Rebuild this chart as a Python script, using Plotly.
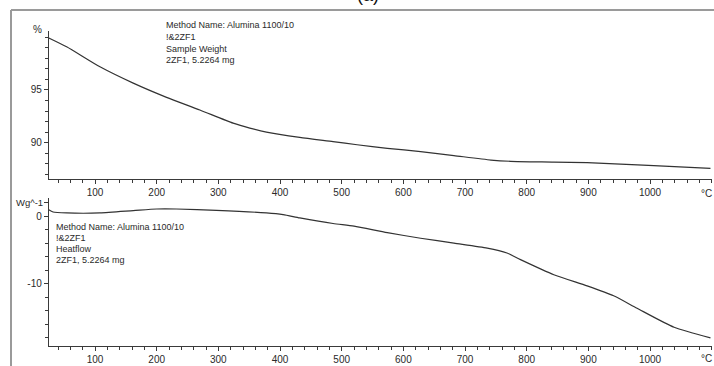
import plotly.graph_objects as go

# ---- data ----
temp_weight = [25, 54, 108, 162, 216, 270, 324, 351, 378, 432, 486, 525, 574, 628, 682, 742, 774, 844, 898, 952, 1006, 1098]
weight_pct = [99.94, 99.1, 97.2, 95.65, 94.3, 93.1, 91.85, 91.38, 91.0, 90.5, 90.1, 89.8, 89.46, 89.15, 88.77, 88.35, 88.23, 88.16, 88.1, 87.97, 87.82, 87.56]

temp_heat = [25, 32, 54, 108, 162, 200, 232, 297, 378, 405, 432, 486, 520, 574, 628, 682, 736, 768, 790, 844, 898, 941, 979, 1039, 1098]
heatflow = [0.97, 0.63, 0.49, 0.49, 0.83, 1.07, 1.07, 0.87, 0.49, 0.24, -0.24, -1.07, -1.46, -2.43, -3.25, -3.98, -4.71, -5.44, -6.42, -8.65, -10.30, -11.76, -13.61, -16.42, -17.98]

x_ticks = [100, 200, 300, 400, 500, 600, 700, 800, 900, 1000]
top_y_ticks = [90, 95]
bot_y_ticks = [-10, 0, 2]
bot_y_ticktext = ["-10", "0", ""]

top_text = ["Method Name: Alumina 1100/10", "!&2ZF1", "Sample Weight", "2ZF1, 5.2264 mg"]
bot_text = ["Method Name: Alumina 1100/10", "!&2ZF1", "Heatflow", "2ZF1, 5.2264 mg"]

W, H = 714, 366
FONT = "Liberation Sans"
AX = "#3a3a3a"
TXT = "#2a2a2a"


def px(x):
    return x / W


def py(y):
    return 1 - y / H


fig = go.Figure()
fig.add_trace(go.Scatter(x=temp_weight, y=weight_pct, mode="lines",
                         line=dict(color="#333333", width=1.2, shape="spline", smoothing=0.6),
                         xaxis="x", yaxis="y", showlegend=False, hoverinfo="skip"))
fig.add_trace(go.Scatter(x=temp_heat, y=heatflow, mode="lines",
                         line=dict(color="#333333", width=1.2, shape="spline", smoothing=0.6),
                         xaxis="x2", yaxis="y2", showlegend=False, hoverinfo="skip"))

xdom = [px(48.75), px(711.7)]
xcommon = dict(range=[25, 1100], domain=xdom, showline=True, linecolor=AX, linewidth=1,
               showgrid=False, zeroline=False, ticks="outside", ticklen=4, tickcolor=AX,
               automargin=False,
               tickvals=x_ticks, tickfont=dict(family=FONT, size=10, color=TXT),
               minor=dict(ticks="outside", ticklen=3, tickcolor=AX, dtick=20, tick0=0, showgrid=False))
ycommon = dict(showline=True, linecolor=AX, linewidth=1, showgrid=False, zeroline=False,
               ticks="outside", ticklen=4, tickcolor=AX, automargin=False,
               tickfont=dict(family=FONT, size=10, color=TXT))

fig.update_layout(
    width=W, height=H, margin=dict(l=0, r=0, t=0, b=0, autoexpand=False),
    paper_bgcolor="white", plot_bgcolor="white", showlegend=False,
    xaxis=dict(anchor="y", **xcommon),
    xaxis2=dict(anchor="y2", **xcommon),
    yaxis=dict(anchor="x", range=[86.52, 100.6], domain=[py(179.3), py(31)],
               tickvals=top_y_ticks,
               minor=dict(ticks="outside", ticklen=3, tickcolor=AX, dtick=1, tick0=0, showgrid=False),
               **ycommon),
    yaxis2=dict(anchor="x2", range=[-19.19, 2.70], domain=[py(346), py(198)],
                tickvals=bot_y_ticks, ticktext=bot_y_ticktext,
                minor=dict(ticks="outside", ticklen=3, tickcolor=AX, dtick=2, tick0=0, showgrid=False),
                **ycommon),
)

anns = []
# unit labels
anns.append(dict(x=px(44), y=py(30), xref="paper", yref="paper", text="%", showarrow=False,
                 xanchor="right", yanchor="middle", font=dict(family=FONT, size=10, color=TXT)))
anns.append(dict(x=px(44.5), y=2, xref="paper", yref="y2", text="Wg^-1", showarrow=False,
                 xanchor="right", yanchor="middle", xshift=0, font=dict(family=FONT, size=9.5, color=TXT)))
for yy in (193.5, 358):
    anns.append(dict(x=px(706), y=py(yy), xref="paper", yref="paper", text="°C", showarrow=False,
                     xanchor="center", yanchor="middle", font=dict(family=FONT, size=10, color=TXT)))
# text blocks
for i, t in enumerate(top_text):
    anns.append(dict(x=px(164), y=py(25 + i * 11.8), xref="paper", yref="paper", text=t, showarrow=False,
                     xanchor="left", yanchor="middle", font=dict(family=FONT, size=9, color=TXT)))
for i, t in enumerate(bot_text):
    anns.append(dict(x=px(54), y=py(226.5 + i * 11), xref="paper", yref="paper", text=t, showarrow=False,
                     xanchor="left", yanchor="middle", font=dict(family=FONT, size=9, color=TXT)))
# partially cut panel label
anns.append(dict(x=px(368), y=py(7), xref="paper", yref="paper", text="(a)", showarrow=False,
                 xanchor="center", yanchor="bottom", font=dict(family=FONT, size=18, color="#111111")))
fig.update_layout(annotations=anns)

# outer frame (top and left edges visible)
fig.add_shape(type="line", xref="paper", yref="paper", x0=px(11), y0=py(10), x1=1.01, y1=py(10),
              line=dict(color="#9a9a9a", width=2))
fig.add_shape(type="line", xref="paper", yref="paper", x0=px(11), y0=py(10), x1=px(11), y1=-0.01,
              line=dict(color="#9a9a9a", width=2))

fig.write_html("out.html", config=dict(displayModeBar=False, staticPlot=True),
               post_script="document.body.style.margin='0';document.body.style.padding='0';document.body.style.overflow='hidden';")
